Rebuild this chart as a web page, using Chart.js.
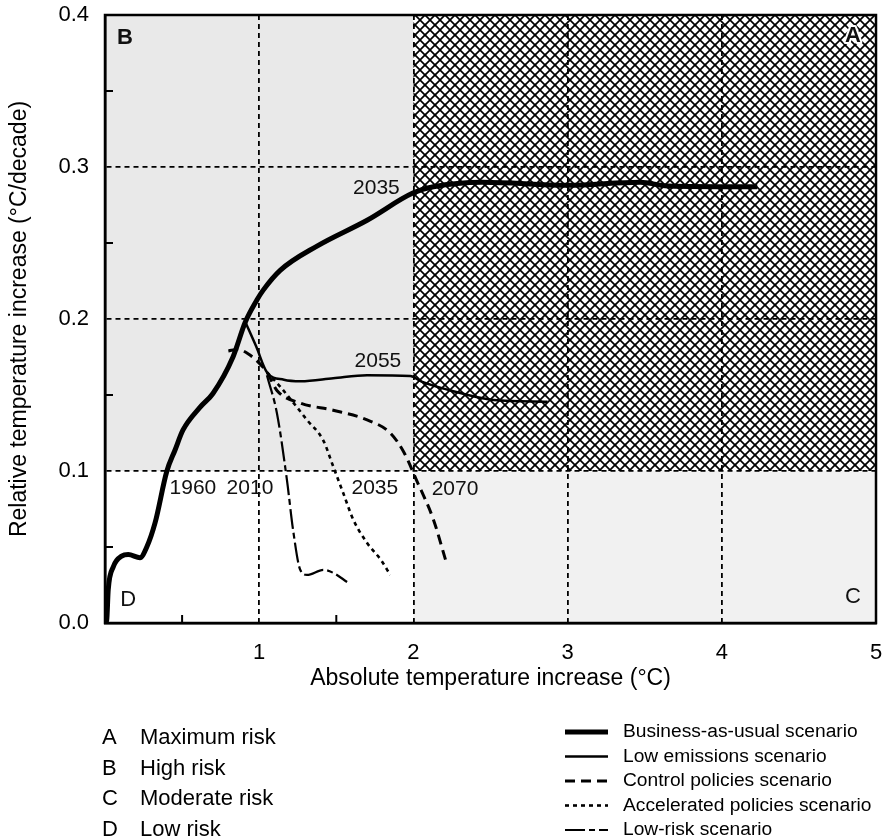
<!DOCTYPE html>
<html>
<head>
<meta charset="utf-8">
<script src="https://cdn.jsdelivr.net/npm/chart.js@4.4.0/dist/chart.umd.min.js"></script>
<style>
  body { margin: 0; background: #fff; }
  #contenedor { width: 888px; height: 840px; }
</style>
</head>
<body>
<div id="contenedor"><canvas id="grafico" width="888" height="840"></canvas></div>
<script>
// Escenario "business as usual" (linea gruesa)
const bauX = [0, 0.011, 0.021, 0.054, 0.108, 0.151, 0.227, 0.271, 0.325, 0.40, 0.455, 0.506, 0.617, 0.70, 0.83, 0.91, 0.985, 1.026, 1.136, 1.375, 1.70, 2.0, 2.13, 2.45, 3.0, 3.47, 3.65, 4.23];
const bauY = [0, 0.002, 0.022, 0.037, 0.044, 0.045, 0.043, 0.050, 0.066, 0.0995, 0.114, 0.127, 0.142, 0.151, 0.175, 0.198, 0.2125, 0.219, 0.232, 0.248, 0.265, 0.283, 0.287, 0.290, 0.288, 0.290, 0.2875, 0.287];

// Bajas emisiones (linea fina)
const bajasX = [0.91, 0.98, 1.05, 1.16, 1.27, 1.48, 1.70, 1.98, 2.05, 2.24, 2.52, 2.87];
const bajasY = [0.198, 0.182, 0.165, 0.160, 0.159, 0.161, 0.163, 0.1625, 0.159, 0.153, 0.1467, 0.1456];

// Politicas de control (guiones)
const controlX = [0.80, 0.86, 0.93, 1.00, 1.05, 1.115, 1.266, 1.48, 1.70, 1.85, 1.94, 2.02, 2.13, 2.21];
const controlY = [0.179, 0.180, 0.177, 0.171, 0.165, 0.153, 0.1447, 0.140, 0.1336, 0.125, 0.112, 0.094, 0.068, 0.041];

// Politicas aceleradas (puntos)
const aceleX = [1.05, 1.136, 1.31, 1.416, 1.48, 1.545, 1.61, 1.70, 1.79, 1.85];
const aceleY = [0.165, 0.1555, 0.1336, 0.120, 0.103, 0.0855, 0.068, 0.0526, 0.0414, 0.0316];

// Bajo riesgo
const riesgoX = [1.05, 1.115, 1.18, 1.22, 1.266, 1.31, 1.416, 1.48, 1.57];
const riesgoY = [0.163, 0.138, 0.094, 0.061, 0.035, 0.0316, 0.035, 0.033, 0.027];

// Etiquetas de años sobre las curvas
const anios = ['2035', '2055', '1960', '2010', '2035', '2070'];
const aniosX = [1.76, 1.77, 0.57, 0.94, 1.75, 2.27];
const aniosY = [0.286, 0.172, 0.089, 0.089, 0.089, 0.088];

// Letras de las zonas
const zonas = ['A', 'B', 'C', 'D'];
const zonasX = [4.85, 0.13, 4.85, 0.15];
const zonasY = [0.386, 0.385, 0.017, 0.015];

// Limites de las zonas de riesgo
const limiteX = 2;
const limiteY = 0.1;

// Marcas menores
const menoresX = [0.5, 1.5];
const menoresY = [0.05, 0.15, 0.25, 0.35];

// Textos de la leyenda
const letrasRiesgo = ['A', 'B', 'C', 'D'];
const nombresRiesgo = ['Maximum risk', 'High risk', 'Moderate risk', 'Low risk'];
const nombresEscenario = ['Business-as-usual scenario', 'Low emissions scenario', 'Control policies scenario', 'Accelerated policies scenario', 'Low-risk scenario'];

const FUENTE = '"Liberation Sans", Arial, sans-serif';

// Estilos de linea de cada escenario
const estilos = [
    { ancho: 5, guion: [] },
    { ancho: 2.5, guion: [] },
    { ancho: 3, guion: [10, 6] },
    { ancho: 2.6, guion: [4, 4] },
    { ancho: 2.2, guion: [20, 4, 6, 4] }
];

function puntos(xs, ys) {
    return xs.map((x, i) => ({ x: x, y: ys[i] }));
}

// Trama cruzada para la zona A
function crearTrama() {
    const c = document.createElement('canvas');
    c.width = 10; c.height = 10;
    const g = c.getContext('2d');
    g.fillStyle = '#fff';
    g.fillRect(0, 0, 10, 10);
    g.strokeStyle = '#000';
    g.lineWidth = 1.7;
    for (const d of [-10, 0, 10]) {
        g.beginPath(); g.moveTo(d, 0); g.lineTo(d + 10, 10); g.stroke();
        g.beginPath(); g.moveTo(d + 10, 0); g.lineTo(d, 10); g.stroke();
    }
    return c;
}
const trama = crearTrama();

const pluginFondo = {
    id: 'fondo',
    beforeDraw(chart) {
        const { ctx, chartArea: a, scales: { x, y } } = chart;
        const xl = x.getPixelForValue(limiteX);
        const yl = y.getPixelForValue(limiteY);
        ctx.save();
        ctx.fillStyle = '#fff';
        ctx.fillRect(0, 0, chart.width, chart.height);
        // zona B
        ctx.fillStyle = '#e9e9e9';
        ctx.fillRect(a.left, a.top, xl - a.left, yl - a.top);
        // zona C
        ctx.fillStyle = '#f1f1f1';
        ctx.fillRect(xl, yl, a.right - xl, a.bottom - yl);
        // zona A
        ctx.fillStyle = ctx.createPattern(trama, 'repeat');
        ctx.fillRect(xl, a.top, a.right - xl, yl - a.top);
        ctx.restore();
    },
    afterDatasetsDraw(chart) {
        const { ctx, chartArea: a, scales: { x, y } } = chart;
        ctx.save();
        // marcas menores hacia dentro
        ctx.strokeStyle = '#000';
        ctx.lineWidth = 2;
        menoresX.forEach(v => {
            const px = x.getPixelForValue(v);
            ctx.beginPath(); ctx.moveTo(px, a.bottom); ctx.lineTo(px, a.bottom - 8); ctx.stroke();
        });
        menoresY.forEach(v => {
            const py = y.getPixelForValue(v);
            ctx.beginPath(); ctx.moveTo(a.left, py); ctx.lineTo(a.left + 8, py); ctx.stroke();
        });
        // marco
        ctx.lineWidth = 2.5;
        ctx.strokeRect(a.left, a.top, a.right - a.left, a.bottom - a.top);

        // años
        ctx.fillStyle = '#111';
        ctx.font = '21px ' + FUENTE;
        ctx.textAlign = 'center';
        ctx.textBaseline = 'middle';
        anios.forEach((t, i) => {
            ctx.fillText(t, x.getPixelForValue(aniosX[i]), y.getPixelForValue(aniosY[i]));
        });
        // letras de zona (con borde blanco para leerse sobre la trama)
        ctx.strokeStyle = '#fff';
        ctx.lineWidth = 4;
        ctx.lineJoin = 'round';
        zonas.forEach((t, i) => {
            ctx.font = (i < 2 ? 'bold ' : '') + '22px ' + FUENTE;
            const px = x.getPixelForValue(zonasX[i]);
            const py = y.getPixelForValue(zonasY[i]);
            if (i === 0) ctx.strokeText(t, px, py);
            ctx.fillText(t, px, py);
        });
        ctx.restore();
    },
    afterDraw(chart) {
        const ctx = chart.ctx;
        ctx.save();
        ctx.fillStyle = '#000';
        ctx.textBaseline = 'middle';
        ctx.textAlign = 'left';
        // leyenda de zonas
        ctx.font = '22px ' + FUENTE;
        nombresRiesgo.forEach((t, i) => {
            const fy = 738 + i * 30.5;
            ctx.fillText(letrasRiesgo[i], 102, fy);
            ctx.fillText(t, 140, fy);
        });
        // leyenda de escenarios
        ctx.font = '19.2px ' + FUENTE;
        ctx.strokeStyle = '#000';
        nombresEscenario.forEach((t, i) => {
            const fy = 732 + i * 24.5;
            ctx.lineWidth = estilos[i].ancho;
            ctx.setLineDash(estilos[i].guion);
            ctx.beginPath(); ctx.moveTo(565, fy); ctx.lineTo(608, fy); ctx.stroke();
            ctx.fillText(t, 623, fy);
        });
        ctx.restore();
    }
};

function serie(xs, ys, k) {
    return {
        data: puntos(xs, ys),
        borderColor: '#000',
        borderWidth: estilos[k].ancho,
        borderDash: estilos[k].guion,
        pointRadius: 0,
        cubicInterpolationMode: 'monotone',
        borderCapStyle: 'butt',
        borderJoinStyle: 'round',
        fill: false
    };
}

const ctx = document.getElementById('grafico').getContext('2d');
new Chart(ctx, {
    type: 'line',
    data: {
        datasets: [
            serie(bauX, bauY, 0),
            serie(bajasX, bajasY, 1),
            serie(controlX, controlY, 2),
            serie(aceleX, aceleY, 3),
            serie(riesgoX, riesgoY, 4)
        ]
    },
    options: {
        responsive: false,
        animation: false,
        layout: { padding: { top: 15, right: 12, left: 0, bottom: 137 } },
        plugins: { legend: { display: false }, tooltip: { enabled: false } },
        scales: {
            x: {
                type: 'linear',
                min: 0, max: 5,
                afterFit: s => {
                    s.height = 80;
                    s.paddingLeft = 0;
                    s.paddingRight = 0;
                },
                ticks: {
                    stepSize: 1,
                    padding: 17,
                    color: '#000',
                    font: { family: FUENTE, size: 22 },
                    callback: v => v === 0 ? '' : v
                },
                grid: { color: '#000', lineWidth: 1.8, drawTicks: false },
                border: { color: '#000', width: 2.5, dash: [5, 4] },
                title: {
                    display: true,
                    text: 'Absolute temperature increase (°C)',
                    color: '#000',
                    font: { family: FUENTE, size: 23 },
                    padding: { top: 0, bottom: 11 }
                }
            },
            y: {
                min: 0, max: 0.4,
                afterFit: s => {
                    s.width = 105;
                    s.paddingTop = 0;
                    s.paddingBottom = 0;
                },
                ticks: {
                    stepSize: 0.1,
                    padding: 16,
                    color: '#000',
                    font: { family: FUENTE, size: 22 },
                    callback: v => v.toFixed(1)
                },
                grid: { color: '#000', lineWidth: 1.8, drawTicks: false },
                border: { color: '#000', width: 2.5, dash: [5, 4] },
                title: {
                    display: true,
                    text: 'Relative temperature increase (°C/decade)',
                    color: '#000',
                    font: { family: FUENTE, size: 23 },
                    padding: { top: 6, bottom: 0 }
                }
            }
        }
    },
    plugins: [pluginFondo]
});
</script>
</body>
</html>
